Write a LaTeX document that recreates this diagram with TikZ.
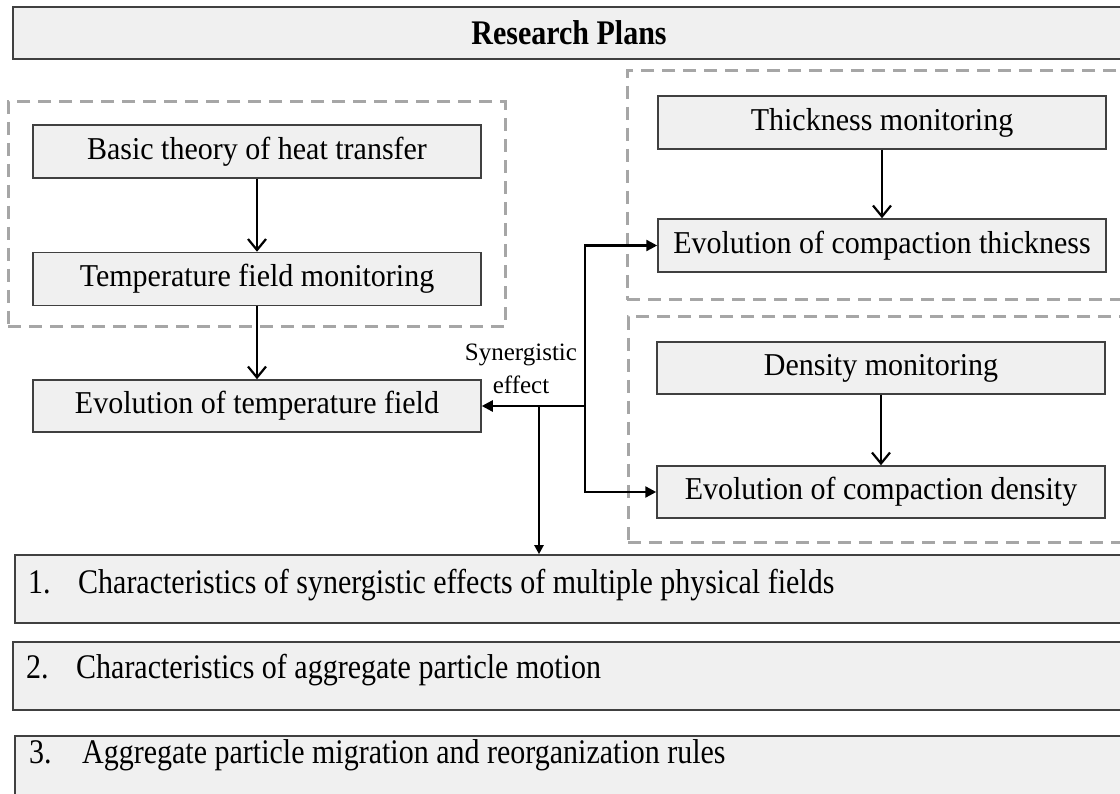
\documentclass[tikz,border=0pt]{standalone}
\usepackage{fontspec}
\setmainfont{Liberation Serif}
\usetikzlibrary{arrows.meta}
\definecolor{boxgray}{HTML}{F0F0F0}
\definecolor{edgegray}{HTML}{404040}
\definecolor{dashgray}{HTML}{A6A6A6}
\newcommand{\vst}[2]{\scalebox{1}[#1]{#2}}
\begin{document}
\begin{tikzpicture}[x=1pt,y=-1pt,
  box/.style={draw=edgegray, line width=1.5pt, fill=boxgray, inner sep=0pt,
    minimum width=448pt, minimum height=53pt, font=\fontsize{30}{36}\selectfont},
  wide/.style={draw=edgegray, line width=1.6pt, fill=boxgray, inner sep=0pt,
    minimum width=1120pt, minimum height=68pt},
  grp/.style={draw=dashgray, line width=3pt, dash pattern=on 13pt off 8pt, inner sep=0pt},
  item/.style={anchor=base west, inner sep=0pt, font=\fontsize{30}{36}\selectfont},
  flow/.style={line width=2.2pt, -{Straight Barb[length=11pt,width=18pt,line width=2.2pt]}},
  syn/.style={line width=2.4pt, -{Triangle[length=11pt,width=11pt]}},
  synsmall/.style={line width=2.2pt, -{Triangle[length=9pt,width=9pt]}},
]
\clip (0,0) rectangle (1120,794);
\fill[white] (0,0) rectangle (1120,794);

% title
\node[draw=edgegray, line width=2pt, fill=boxgray, inner sep=0pt,
  minimum width=1112pt, minimum height=52pt,
  font=\fontsize{30}{36}\selectfont\bfseries] (title) at (569,33) {\vst{1.15}{Research Plans}};

% dashed groups
\node[grp, minimum width=497pt, minimum height=225pt] (g1) at (256.5,214.5) {};
\node[grp, minimum width=508pt, minimum height=229pt] (g2) at (881,185.5) {};
\node[grp, minimum width=507pt, minimum height=225pt] (g3) at (881.5,429.5) {};

% left column
\node[box] (basic) at (257,151.5) {\vst{1.06}{Basic theory of heat transfer}};
\node[box] (tmon)  at (257,279)   {\vst{1.06}{Temperature field monitoring}};
\node[box, minimum height=52pt] (etemp) at (257,406) {\vst{1.06}{Evolution of temperature field}};

% right column
\node[box] (thick)  at (882,122.5) {\vst{1.06}{Thickness monitoring}};
\node[box] (cthick) at (882,245.5) {\vst{1.06}{Evolution of compaction thickness}};
\node[box, minimum height=52pt] (dmon)   at (881,368)   {\vst{1.06}{Density monitoring}};
\node[box, minimum height=52pt] (cdens)  at (881,492)   {\vst{1.06}{Evolution of compaction density}};

% bottom boxes
\node[wide] (b1) at (575,589) {};
\node[wide] (b2) at (573,676) {};
\node[wide] (b3) at (575,770) {};
\node[item] (b1t) at (28,593) {\vst{1.15}{\makebox[50pt][l]{1.}Characteristics of synergistic effects of multiple physical fields}};
\node[item] (b2t) at (26,678) {\vst{1.15}{\makebox[50pt][l]{2.}Characteristics of aggregate particle motion}};
\node[item] (b3t) at (29,763) {\vst{1.15}{\makebox[53pt][l]{3.}Aggregate particle migration and reorganization rules}};

% label
\node[align=center, inner sep=0pt, font=\fontsize{25}{33}\selectfont] (synlab) at (521,369) {Synergistic\\effect};

% connectors
\draw[flow] (basic) -- (tmon);
\draw[flow] (tmon) -- (etemp);
\draw[flow] (thick) -- (cthick);
\draw[flow] (dmon) -- (cdens);

\coordinate (hub) at (585,406);
\coordinate (split) at (539,406);
\draw[syn] (hub) -- (etemp.east);
\draw[syn] (hub) |- (cthick.west);
\draw[syn] (hub) |- (cdens.west);
\draw[synsmall] (split) -- (split |- b1.north);
\end{tikzpicture}
\end{document}
